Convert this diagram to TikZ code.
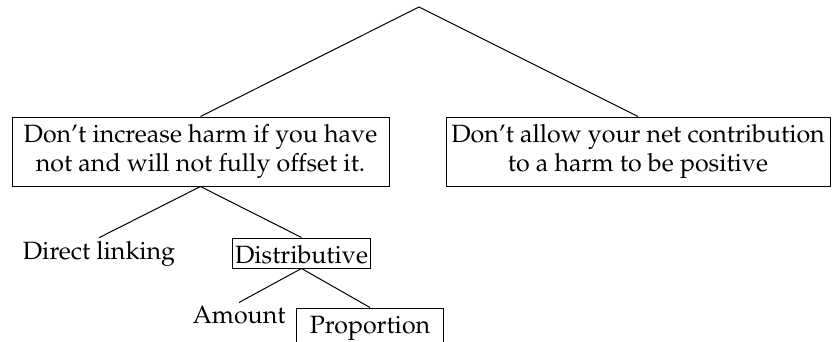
\documentclass[tikz,border=0pt]{standalone}
\usepackage[T1]{fontenc}
\usepackage{mathpazo}
\begin{document}
\begin{tikzpicture}[x=1pt,y=-1pt,
  every node/.style={font=\fontsize{25}{29}\selectfont},
  bigbox/.style={draw,line width=1pt,align=center,minimum height=69pt,inner sep=0pt},
  smallbox/.style={draw,line width=1pt,inner xsep=2.5pt,inner ysep=3pt,text height=22pt,text depth=2pt},
  leaf/.style={inner sep=3pt},
  edge/.style={line width=1pt}]
\useasboundingbox (0,0) rectangle (834,342);
\coordinate (top) at (419,7);
\node[bigbox,minimum width=377pt] (L) at (200.5,151.5) {Don't increase harm if you have\\not and will not fully offset it.};
\node[bigbox,minimum width=384pt] (R) at (638,151.5) {Don't allow your net contribution\\to a harm to be positive};
\node[leaf,anchor=base] (DL) at (99,259) {Direct linking};
\node[smallbox,anchor=base] (D) at (301.5,263) {Distributive};
\node[leaf,anchor=base] (A) at (239,323) {Amount};
\node[smallbox,anchor=base west,minimum width=147pt,text depth=14pt] (P) at (296,333) {Proportion};
\draw[edge] (L.north) -- (top) -- (R.north);
\draw[edge] (DL.north) -- (L.south) -- (D.north);
\draw[edge] (A.north) -- (D.south) -- (P.north);
\end{tikzpicture}
\end{document}
